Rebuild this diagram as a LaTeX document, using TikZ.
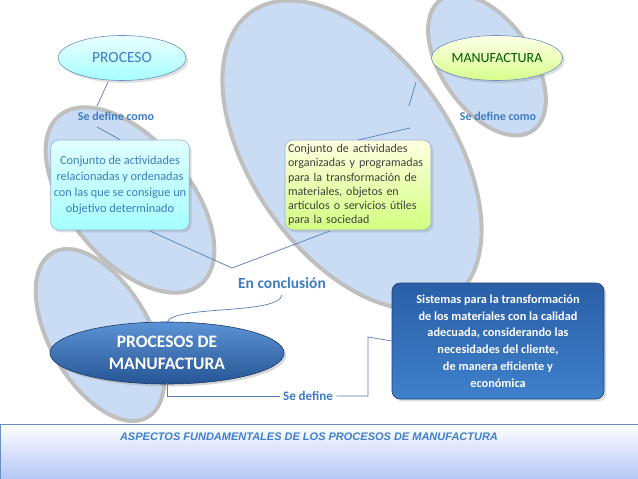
\documentclass[tikz,border=0pt]{standalone}
\usepackage{fontspec}
\setmainfont{Carlito}
\newfontfamily\arialf{Liberation Sans}
\usetikzlibrary{shapes.geometric,shadows}
\definecolor{tblue}{HTML}{3E7CC2}
\definecolor{bgell}{HTML}{C9DCF4}
\definecolor{dblue}{HTML}{2A5FA6}
\definecolor{lblue}{HTML}{3F80CC}
\tikzset{
  bgellipse/.style={fill=bgell,draw=gray!50,line width=4pt},
  conn/.style={draw=dblue!80,line width=0.7pt},
  lab/.style={text=tblue,font=\bfseries\fontsize{12}{13}\selectfont},
  topell/.style={ellipse,draw=dblue!70,line width=0.6pt,minimum width=128pt,minimum height=45pt,drop shadow={opacity=0.25}},
  sbox/.style={rounded corners=8pt,draw=dblue!50,line width=0.6pt,drop shadow={opacity=0.25},inner sep=3pt}
}
\begin{document}
\begin{tikzpicture}[x=1pt,y=-1pt]
\useasboundingbox (0,0) rectangle (638,479);
\fill[white] (0,0) rectangle (638,479);
% background ellipses
\draw[bgellipse,rotate around={-50:(130,200)}] (130,200) ellipse (110 and 60);
\draw[bgellipse,rotate around={-40:(380,225)}] (380,225) ellipse (80 and 55);
\draw[bgellipse,rotate around={-55:(352,155)}] (352,155) ellipse (175 and 100);
\draw[bgellipse,rotate around={-55:(487,65)}] (487,65) ellipse (80 and 45);
\draw[bgellipse,rotate around={-60:(100,335)}] (100,335) ellipse (95 and 50);
% footer
\shade[top color=white,bottom color=bgell!90!blue,draw=dblue!70,line width=0.6pt] (0,424) rectangle (638,479);
\node[font=\arialf\bfseries\itshape\fontsize{11}{12}\selectfont,text=lblue] (foot) at (309,437) {ASPECTOS FUNDAMENTALES DE LOS PROCESOS DE MANUFACTURA};
% top nodes
\node[topell,top color=cyan!8,bottom color=cyan!35,text=tblue,font=\fontsize{15.5}{16}\selectfont] (proc) at (122,58) {PROCESO};
\node[topell,top color=green!5!yellow!10,bottom color=green!35!yellow!45,text=green!35!black,font=\fontsize{14}{15}\selectfont,minimum width=130pt,inner sep=1pt] (manu) at (497,58) {MANUFACTURA};
\node[lab] (sdl) at (116,116) {Se define como};
\node[lab] (sdr) at (498,116) {Se define como};
\node[sbox,top color=cyan!12,bottom color=cyan!35,text=tblue,minimum width=135pt,minimum height=90pt,align=center,font=\fontsize{12.3}{16}\selectfont] (lbox) at (120,185) {Conjunto de actividades\\relacionadas y ordenadas\\con las que se consigue un\\objetivo determinado};
\node[sbox,top color=yellow!12,bottom color=green!35!yellow!50,text=black!75,minimum width=144pt,minimum height=90pt,align=left,font=\fontsize{12}{14.3}\selectfont,text width=140pt] (rbox) at (358,185) {Conjunto de actividades\\organizadas y programadas\\para la transformación de\\materiales, objetos  en\\artículos o servicios útiles\\para la sociedad};
\node[text=tblue,font=\bfseries\fontsize{15.5}{17}\selectfont] (concl) at (282,283) {En conclusión};
\node[ellipse,draw=dblue!60!black,line width=0.6pt,top color=lblue!85,bottom color=dblue!90!black,text=white,font=\bfseries\fontsize{17.5}{22}\selectfont,align=center,minimum width=234pt,minimum height=62pt,inner sep=0pt,drop shadow={opacity=0.3}] (pm) at (167,353) {PROCESOS DE\\MANUFACTURA};
\node[sbox,top color=dblue,bottom color=lblue,draw=dblue!70!black,text=white,align=center,minimum width=212pt,minimum height=116pt,inner sep=1pt,font=\bfseries\fontsize{12.3}{16.8}\selectfont] (dbox) at (498,341) {Sistemas para la transformación\\de los materiales con la calidad\\adecuada, considerando las\\necesidades del cliente,\\de manera eficiente y\\económica};
\node[lab,font=\bfseries\fontsize{13}{14}\selectfont] (sd) at (308,396) {Se define};
% connectors
\draw[conn] (108,82) -- (97,106);
\draw[conn] (97,127) -- (lbox.north);
\draw[conn] (416,82) -- (409,106);
\draw[conn] (410,128) -- (358,140);
\coordinate (mid) at (232,268);
\draw[conn] (150,231) -- (mid) -- (330,231);
\draw[conn] (282,295) .. controls (278,315) and (175,305) .. (167,322);
\draw[conn] (167,383) -- (167,396) -- (sd.west);
\draw[conn] (sd.east) -- (368,396) -- (368,337) -- (dbox.west);
\end{tikzpicture}
\end{document}
